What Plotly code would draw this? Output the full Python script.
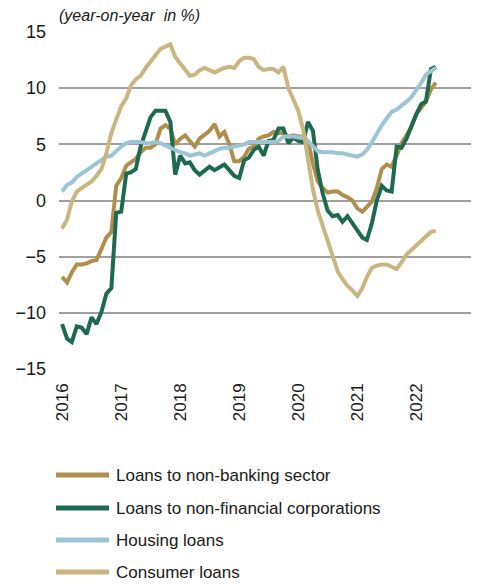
import plotly.graph_objects as go
import pandas as pd

dates = pd.date_range("2016-01-01", periods=77, freq="MS")

non_banking = [-6.8, -7.3, -6.4, -5.7, -5.7, -5.6, -5.4, -5.3, -4.3, -3.3, -2.8, 1.3,
               2.0, 3.1, 3.4, 3.7, 4.3, 4.7, 4.7, 5.0, 6.4, 6.7, 6.4, 5.0,
               5.5, 5.8, 5.3, 4.8, 5.5, 5.9, 6.2, 6.8, 5.7, 6.1, 5.0, 3.5,
               3.5, 3.9, 4.6, 4.8, 5.5, 5.7, 5.8, 6.1, 6.0, 6.0, 5.7, 5.8,
               5.7, 5.7, 5.3, 3.3, 1.7, 1.1, 0.7, 0.8, 0.8, 0.5, 0.3, 0.0,
               -0.7, -1.0, -0.6, -0.1, 1.1, 2.8, 3.2, 3.0, 4.0, 5.1, 5.8, 6.6,
               7.7, 8.3, 8.8, 9.9, 10.5]

non_financial = [-11.0, -12.3, -12.6, -11.2, -11.3, -11.9, -10.4, -11.0, -9.9, -8.3, -7.8, -1.1,
                 -1.0, 2.4, 2.5, 2.8, 4.8, 6.0, 7.4, 8.0, 8.0, 8.0, 7.0, 2.3,
                 4.0, 3.3, 3.4, 2.7, 2.3, 2.7, 3.0, 2.7, 3.0, 3.2, 2.7, 2.2,
                 2.0, 3.6, 3.8, 4.5, 4.8, 4.0, 5.3, 5.4, 6.4, 6.4, 5.1, 5.6,
                 5.3, 5.2, 7.0, 6.2, 2.7, 0.6, -0.9, -1.4, -1.3, -1.9, -1.4, -2.0,
                 -2.7, -3.3, -3.5, -2.0, 0.0, 1.3, 0.9, 0.8, 4.8, 4.7, 5.5, 6.7,
                 7.7, 8.6, 8.8, 11.7, 11.9]

housing = [0.8, 1.4, 1.6, 2.1, 2.4, 2.7, 3.0, 3.3, 3.6, 3.9, 4.0, 4.4,
           4.8, 5.1, 5.2, 5.2, 5.2, 5.1, 5.1, 5.2, 5.1, 4.9, 4.7, 4.5,
           4.3, 4.2, 4.0, 4.1, 4.2, 4.0, 4.2, 4.4, 4.6, 4.7, 4.7, 4.8,
           4.9, 5.0, 5.2, 5.2, 5.2, 5.2, 5.2, 5.2, 5.3, 5.7, 5.7, 5.7,
           5.6, 5.6, 5.3, 4.8, 4.4, 4.3, 4.3, 4.3, 4.2, 4.2, 4.1, 4.0,
           3.9, 4.1, 4.5, 5.2, 6.0, 6.7, 7.3, 7.9, 8.1, 8.4, 8.8, 9.2,
           9.8, 10.5, 11.2, 11.5, 11.8]

consumer = [-2.5, -1.7, -0.1, 0.8, 1.1, 1.4, 1.7, 2.2, 2.8, 4.2, 6.0, 7.2,
            8.4, 9.1, 10.2, 10.8, 11.1, 11.8, 12.4, 13.0, 13.5, 13.7, 13.9, 12.8,
            12.2, 11.5, 11.1, 11.2, 11.6, 11.8, 11.6, 11.4, 11.6, 11.8, 11.9, 11.8,
            12.4, 12.7, 12.7, 12.6, 11.9, 11.6, 11.7, 11.7, 11.4, 11.9, 10.0, 9.0,
            8.0, 6.3, 3.5, 1.0, -0.9, -2.3, -3.6, -4.8, -6.3, -7.0, -7.6, -8.0,
            -8.5, -7.8, -6.8, -6.0, -5.8, -5.7, -5.7, -5.9, -6.1, -5.5, -4.8, -4.4,
            -4.0, -3.6, -3.2, -2.8, -2.7]

series_names = ["Loans to non-banking sector", "Loans to non-financial corporations",
                "Housing loans", "Consumer loans"]
series_values = [non_banking, non_financial, housing, consumer]
series_colors = ["#B08E4C", "#1E6A4E", "#9CC4D2", "#C9B580"]

y_ticks = [-15, -10, -5, 0, 5, 10, 15]
y_title = "(year-on-year  in %)"

FONT = "Liberation Sans, Arial, sans-serif"
TEXT_COLOR = "#1a1a1a"

fig = go.Figure()
for name, vals, col in zip(series_names, series_values, series_colors):
    fig.add_trace(go.Scatter(x=dates, y=vals, mode="lines", name=name,
                             line=dict(color=col, width=4), showlegend=False))

# Plot area geometry (pixels) for legend placement
L, R, T, B = 59, 6, 32, 216
W, H = 477, 585
pw, ph = W - L - R, H - T - B

legend_rows_px = [475, 508, 540, 572]
for name, col, ypx in zip(series_names, series_colors, legend_rows_px):
    yp = (H - B - ypx) / ph
    fig.add_shape(type="line", xref="paper", yref="paper",
                  x0=(56 - L) / pw, x1=(109 - L) / pw, y0=yp, y1=yp,
                  line=dict(color=col, width=5))
    fig.add_annotation(xref="paper", yref="paper", x=(114 - L) / pw, y=yp,
                       text=name, showarrow=False, xanchor="left", yanchor="middle",
                       font=dict(family=FONT, size=17, color=TEXT_COLOR))

fig.add_annotation(xref="paper", yref="paper", x=(57 - L) / pw, y=(H - B - 16) / ph,
                   text="<i>" + y_title + "</i>", showarrow=False,
                   xanchor="left", yanchor="middle",
                   font=dict(family=FONT, size=16, color=TEXT_COLOR))

fig.update_layout(
    width=W, height=H, autosize=False,
    margin=dict(l=L, r=R, t=T, b=B),
    paper_bgcolor="white", plot_bgcolor="white",
    font=dict(family=FONT, size=17, color=TEXT_COLOR),
    xaxis=dict(type="date", range=["2015-12-13", "2022-12-05"],
               tick0="2016-01-01", dtick="M12", tickformat="%Y",
               tickangle=-90, showgrid=False, zeroline=False, showline=False,
               ticks="", ticklabelstandoff=10,
               tickfont=dict(family=FONT, size=17, color=TEXT_COLOR)),
    yaxis=dict(range=[-15, 15], tickvals=y_ticks, showgrid=True,
               gridcolor="#a0a0a0", gridwidth=1.6, zeroline=True,
               zerolinecolor="#a0a0a0", zerolinewidth=1.6, showline=False,
               ticks="", ticklabelstandoff=12,
               tickfont=dict(family=FONT, size=18, color=TEXT_COLOR)),
)

fig.write_html("out.html")
